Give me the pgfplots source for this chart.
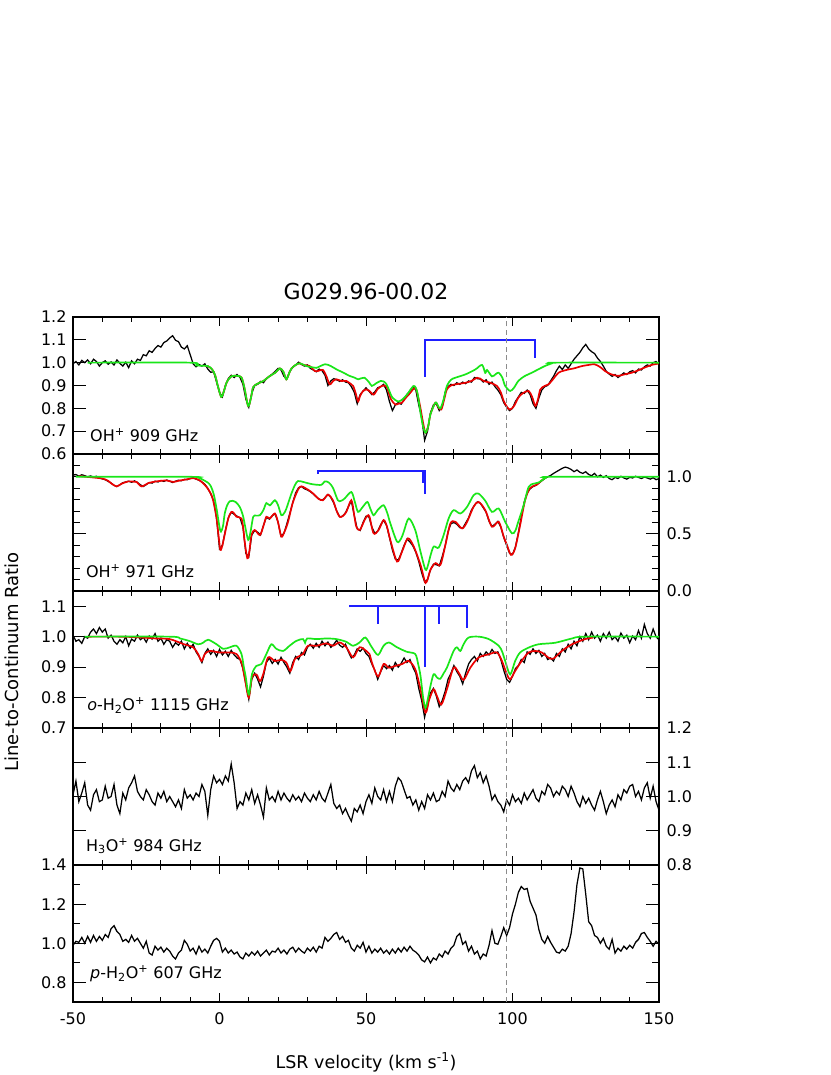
\documentclass[border=0pt]{standalone}
\usepackage{fontspec}
\setmainfont{DejaVu Sans}
\usepackage{pgfplots}
\usepackage{pgfplotstable}
\pgfplotsset{compat=1.18}
\definecolor{mygreen}{RGB}{25,230,25}
\definecolor{myred}{RGB}{235,0,0}
\definecolor{myblue}{RGB}{30,30,255}

\pgfplotstableread{
v b1 b2 b3 b4 b5
-50 0.995 1.015 1.005 1.005 0.990
-49 1.005 1.020 0.985 1.045 1.010
-48 0.990 1.005 0.990 0.985 1.005
-47 1.010 1.018 0.978 1.010 1.030
-46 1.000 1.010 1.000 1.040 1.000
-45 1.012 1.000 0.995 0.975 1.035
-44 0.995 1.008 1.015 0.960 1.005
-43 1.015 0.998 1.025 1.005 1.040
-42 1.005 1.005 1.010 1.020 1.010
-41 0.985 0.990 1.030 0.985 1.035
-40 1.000 0.982 1.015 0.990 1.015
-39 1.008 0.975 1.025 1.030 1.045
-38 0.993 0.960 0.995 0.995 1.030
-37 1.003 0.945 1.005 1.000 1.075
-36 0.990 0.925 0.985 1.035 1.090
-35 1.012 0.915 0.975 0.975 1.060
-34 0.997 0.930 0.990 0.950 1.045
-33 0.985 0.948 0.980 1.010 1.010
-32 1.002 0.955 1.000 0.990 1.020
-31 0.978 0.962 0.970 1.025 1.005
-30 1.008 0.952 0.992 1.040 1.040
-29 0.995 0.965 0.985 1.060 1.010
-28 1.015 0.950 1.005 1.015 1.025
-27 1.010 0.930 0.990 1.000 1.000
-26 1.035 0.915 0.998 0.990 0.975
-25 1.030 0.932 0.982 1.020 1.010
-24 1.052 0.950 1.002 1.005 0.950
-23 1.045 0.945 0.992 0.985 0.940
-22 1.062 0.962 1.010 0.975 0.985
-21 1.075 0.955 0.985 1.010 0.965
-20 1.068 0.968 0.995 0.995 0.980
-19 1.088 0.960 0.975 1.015 0.955
-18 1.095 0.972 0.990 0.985 0.975
-17 1.108 0.962 0.985 1.000 0.960
-16 1.118 0.950 0.965 0.985 0.935
-15 1.098 0.962 0.980 0.970 0.920
-14 1.092 0.970 0.972 0.990 0.950
-13 1.068 0.965 0.985 0.965 0.965
-12 1.060 0.978 0.960 1.020 1.015
-11 1.074 0.975 0.978 0.995 0.995
-10 1.035 0.985 0.962 1.005 0.960
-9 0.995 0.992 0.975 0.990 0.975
-8 0.982 0.980 0.950 1.010 0.945
-7 0.992 0.970 0.935 1.000 0.985
-6 0.985 0.955 0.915 1.035 0.955
-5 0.995 0.935 0.945 1.015 0.970
-4 0.972 0.900 0.960 0.945 0.950
-3 0.958 0.850 0.942 1.020 0.985
-2 0.960 0.790 0.955 1.060 1.015
-1 0.915 0.640 0.935 1.040 1.025
0 0.870 0.370 0.958 1.050 1.010
1 0.850 0.400 0.940 1.035 0.955
2 0.900 0.530 0.952 1.060 0.975
3 0.930 0.640 0.935 1.045 0.950
4 0.945 0.690 0.955 1.095 0.965
5 0.935 0.672 0.940 1.040 0.945
6 0.948 0.655 0.930 0.965 0.955
7 0.935 0.640 0.925 0.985 0.930
8 0.905 0.560 0.895 0.975 0.920
9 0.840 0.330 0.845 1.010 0.950
10 0.805 0.300 0.795 0.990 0.935
11 0.865 0.490 0.860 1.020 0.955
12 0.900 0.530 0.880 0.980 0.940
13 0.905 0.515 0.860 1.005 0.960
14 0.918 0.490 0.835 0.975 0.935
15 0.912 0.575 0.870 0.940 0.950
16 0.930 0.645 0.915 1.025 0.965
17 0.940 0.630 0.930 0.990 0.940
18 0.950 0.660 0.912 1.000 0.960
19 0.962 0.675 0.925 0.985 0.955
20 0.975 0.600 0.910 1.015 0.975
21 0.968 0.480 0.932 0.990 0.950
22 0.940 0.505 0.915 1.010 0.965
23 0.930 0.590 0.900 0.995 0.945
24 0.962 0.680 0.880 0.985 0.970
25 0.980 0.775 0.915 1.005 0.980
26 0.990 0.860 0.935 0.990 0.955
27 1.002 0.905 0.925 1.000 0.975
28 0.992 0.915 0.948 0.985 0.960
29 0.985 0.895 0.940 1.010 0.950
30 0.990 0.885 0.965 0.995 0.975
31 0.975 0.870 0.975 0.985 0.960
32 0.968 0.850 0.962 1.005 0.980
33 0.960 0.825 0.978 0.990 0.955
34 0.972 0.805 0.965 1.015 0.985
35 0.965 0.795 0.985 0.995 0.975
36 0.945 0.815 0.970 0.985 1.030
37 0.900 0.845 0.982 1.010 1.010
38 0.920 0.820 0.965 1.035 1.025
39 0.930 0.770 0.975 0.980 1.045
40 0.925 0.700 0.988 0.965 1.055
41 0.918 0.650 0.972 0.975 1.020
42 0.925 0.655 0.965 0.950 1.035
43 0.915 0.685 0.975 0.965 1.005
44 0.912 0.740 0.950 0.945 1.015
45 0.895 0.790 0.930 0.928 0.975
46 0.870 0.660 0.940 0.965 0.960
47 0.820 0.545 0.960 0.955 0.990
48 0.860 0.530 0.952 0.975 0.975
49 0.875 0.600 0.962 0.950 1.005
50 0.890 0.655 0.945 0.985 0.955
51 0.875 0.650 0.935 1.005 0.985
52 0.860 0.560 0.910 0.980 0.950
53 0.872 0.505 0.890 1.025 0.970
54 0.890 0.525 0.860 1.000 0.955
55 0.895 0.580 0.885 0.990 0.975
56 0.905 0.620 0.905 1.020 0.950
57 0.880 0.575 0.895 0.985 0.965
58 0.830 0.470 0.905 1.015 0.945
59 0.790 0.360 0.890 0.985 0.970
60 0.815 0.280 0.915 1.030 0.950
61 0.825 0.270 0.900 1.055 0.975
62 0.818 0.330 0.912 1.045 0.955
63 0.840 0.400 0.930 1.020 0.980
64 0.862 0.455 0.915 0.995 0.960
65 0.875 0.430 0.925 1.000 0.985
66 0.895 0.395 0.900 0.975 0.965
67 0.880 0.340 0.880 0.990 0.955
68 0.815 0.260 0.830 0.960 0.940
69 0.760 0.160 0.790 0.985 0.915
70 0.660 0.080 0.735 0.965 0.905
71 0.700 0.100 0.780 1.005 0.930
72 0.780 0.185 0.815 0.990 0.900
73 0.815 0.235 0.830 1.010 0.925
74 0.820 0.230 0.805 0.985 0.915
75 0.790 0.220 0.770 0.990 0.945
76 0.805 0.300 0.790 1.015 0.930
77 0.870 0.395 0.820 1.000 0.960
78 0.895 0.520 0.860 1.045 0.945
79 0.905 0.590 0.880 1.025 0.975
80 0.900 0.600 0.905 1.015 0.990
81 0.912 0.585 0.885 1.035 1.035
82 0.905 0.555 0.870 1.020 1.050
83 0.915 0.550 0.845 1.045 0.995
84 0.908 0.595 0.880 1.055 1.010
85 0.920 0.640 0.910 1.040 0.960
86 0.915 0.710 0.925 1.075 0.985
87 0.935 0.750 0.935 1.090 0.945
88 0.930 0.780 0.920 1.055 0.960
89 0.928 0.770 0.945 1.070 0.920
90 0.915 0.730 0.935 1.040 0.945
91 0.925 0.690 0.950 1.060 0.935
92 0.905 0.610 0.940 1.030 0.990
93 0.915 0.565 0.958 0.990 1.065
94 0.895 0.585 0.945 1.005 1.000
95 0.880 0.610 0.950 0.985 0.995
96 0.860 0.560 0.925 0.975 1.035
97 0.825 0.470 0.890 0.955 1.080
98 0.805 0.400 0.860 0.990 1.040
99 0.790 0.330 0.850 0.975 1.080
100 0.800 0.320 0.870 1.005 1.150
101 0.830 0.385 0.895 0.985 1.200
102 0.850 0.510 0.905 0.995 1.260
103 0.870 0.650 0.925 0.980 1.290
104 0.865 0.780 0.915 1.010 1.275
105 0.880 0.860 0.950 0.990 1.280
106 0.860 0.895 0.942 1.005 1.215
107 0.820 0.915 0.960 1.020 1.180
108 0.800 0.925 0.945 0.995 1.145
109 0.845 0.945 0.955 0.985 1.070
110 0.880 0.965 0.935 1.015 1.020
111 0.895 0.985 0.945 1.005 1.000
112 0.900 1.000 0.925 1.035 1.035
113 0.920 1.012 0.930 1.025 1.005
114 0.940 1.030 0.920 1.000 0.980
115 0.965 1.045 0.945 1.015 0.955
116 0.985 1.060 0.935 1.005 0.950
117 0.970 1.075 0.960 1.030 0.970
118 0.990 1.085 0.950 1.020 0.960
119 0.975 1.078 0.975 1.000 0.985
120 0.995 1.065 0.960 1.030 1.050
121 1.015 1.045 0.985 1.010 1.160
122 1.030 1.060 0.970 0.985 1.300
123 1.045 1.040 1.000 0.970 1.385
124 1.065 1.030 0.985 1.000 1.380
125 1.080 1.045 1.010 0.980 1.250
126 1.060 1.020 0.990 0.995 1.110
127 1.048 1.010 1.015 0.975 1.090
128 1.040 1.030 0.995 0.960 1.040
129 1.020 1.000 1.005 0.990 1.030
130 1.005 1.015 0.985 1.015 1.000
131 0.985 0.995 1.010 0.985 1.025
132 0.962 1.010 0.995 0.950 0.985
133 0.950 0.985 1.015 0.975 0.970
134 0.940 0.975 0.990 0.990 1.020
135 0.948 0.995 1.000 0.970 0.950
136 0.935 0.985 0.985 1.005 0.975
137 0.945 1.005 1.012 0.990 0.960
138 0.955 0.990 0.995 1.020 0.985
139 0.948 0.980 1.005 1.010 0.970
140 0.960 0.995 0.980 1.030 0.990
141 0.965 0.990 1.002 1.035 0.975
142 0.955 1.005 0.990 1.000 1.005
143 0.972 0.995 1.020 1.015 1.020
144 0.968 0.985 0.995 0.990 1.050
145 0.982 0.998 1.040 1.025 1.055
146 0.990 0.990 1.010 1.040 1.030
147 0.985 0.980 0.995 0.995 1.010
148 1.000 0.992 1.025 1.030 0.985
149 1.005 0.975 1.000 0.985 1.010
150 0.992 0.985 0.990 0.960 0.995
}\blk

\pgfplotsset{
  panel/.style={
    width=586pt, height=137pt, scale only axis, anchor=south west,
    xmin=-50, xmax=150,
    xtick={-50,0,50,100,150},
    minor xtick={-40,-30,-20,-10,10,20,30,40,60,70,80,90,110,120,130,140},
    xticklabels={},
    tick align=inside, xtick pos=both, ytick pos=both,
    axis line style={line width=1.1pt},
    tick style={black, line width=0.9pt},
    xtick style={/pgfplots/major tick length=9pt, /pgfplots/minor tick length=5pt},
    ytick style={/pgfplots/major tick length=13pt, /pgfplots/minor tick length=7pt},
    tick label style={font=\fontsize{16}{18}\selectfont},
    clip=true,
  },
  obs/.style={black, line width=1.25pt},
  mred/.style={myred, line width=1.7pt, smooth, tension=0.5},
  mgreen/.style={mygreen, line width=1.7pt, smooth, tension=0.5},
  hfs/.style={myblue, line width=1.8pt},
  vdash/.style={color=black!45, line width=1pt, dash pattern=on 5pt off 3.5pt},
}
\tikzset{plab/.style={anchor=base west, inner sep=0pt, font=\fontsize{16}{18}\selectfont}}

\begin{document}
\begin{tikzpicture}
\path[use as bounding box] (-73pt,-73pt) rectangle (757pt,1002pt);

% ---------------- Panel 1: OH+ 909 GHz
\begin{axis}[panel, at={(0pt,548pt)},
  ymin=0.6, ymax=1.2,
  ytick={0.6,0.7,0.8,0.9,1.0,1.1,1.2},
  yticklabels={0.6,0.7,0.8,0.9,1.0,1.1,1.2},
  yticklabel style={xshift=-3pt},
  title={G029.96-00.02},
  title style={font=\fontsize{22}{26}\selectfont, at={(0.5,1)}, anchor=base, yshift=11pt},
]
\addplot[obs] table[x=v,y=b1]{\blk};
\addplot[mred] coordinates {(-5,0.985) (-4,0.985) (-2.5,0.97) (-1.5,0.945) (-0.5,0.895) (0.6,0.85) (1.5,0.875) (2.5,0.915) (4,0.94) (6,0.942) (7.5,0.935) (8.5,0.89) (9.8,0.81) (10.8,0.85) (11.5,0.893) (13,0.908) (15,0.92) (17,0.94) (19,0.956) (20.6,0.975) (21.8,0.96) (22.8,0.927) (23.8,0.955) (24.6,0.975) (26,0.99) (27.4,0.997) (28.6,0.99) (30.8,0.985) (32.6,0.963) (34,0.965) (35.3,0.968) (36.5,0.94) (37.6,0.905) (38.8,0.92) (40,0.927) (41.5,0.92) (43.3,0.92) (44.5,0.91) (45.6,0.898) (46.5,0.865) (47.3,0.83) (48,0.855) (49,0.876) (50,0.883) (51,0.878) (52.6,0.86) (54,0.885) (55.5,0.898) (57,0.895) (58.5,0.84) (60,0.817) (61,0.82) (62.3,0.825) (63.5,0.845) (64.6,0.86) (66.8,0.89) (67.8,0.85) (68.6,0.80) (69.5,0.735) (70.3,0.693) (71.2,0.72) (72,0.774) (73.7,0.825) (74.7,0.805) (75.7,0.795) (76.7,0.84) (77.6,0.883) (79,0.9) (80.5,0.905) (84,0.912) (86,0.92) (87.9,0.934) (89,0.93) (90.1,0.92) (92.4,0.912) (94.7,0.898) (96,0.87) (97,0.832) (98.2,0.805) (99.2,0.795) (100.5,0.81) (102,0.847) (103.5,0.866) (105.5,0.876) (106.7,0.85) (107.8,0.81) (108.7,0.84) (109.5,0.883) (111,0.898) (112.3,0.905) (114,0.93) (115.7,0.956) (117.5,0.965) (119,0.97) (121,0.975) (123.7,0.985) (126,0.99) (128,0.993) (130,0.98) (131.6,0.963) (133.5,0.95) (136,0.942) (138,0.948) (140.7,0.956) (143,0.967) (145,0.978) (147.5,0.99) (149.8,0.996)};
\addplot[mgreen] coordinates {(-45,1.0) (-10,1.0) (-8,0.988) (-4,0.985) (-2.5,0.97) (-1.5,0.945) (-0.5,0.895) (0.6,0.85) (1.5,0.875) (2.5,0.915) (4,0.94) (6,0.942) (7.5,0.935) (8.5,0.89) (9.8,0.81) (10.8,0.85) (11.5,0.893) (13,0.908) (15,0.92) (17,0.94) (19,0.956) (20.6,0.975) (21.8,0.96) (22.8,0.927) (23.8,0.955) (24.6,0.975) (26,0.99) (27.4,0.997) (29.7,0.985) (31.5,0.98) (33,0.977) (36,0.993) (38,0.985) (40,0.97) (42,0.958) (44.4,0.942) (46,0.935) (47.3,0.927) (48.5,0.932) (49.5,0.934) (51,0.915) (52,0.898) (53.5,0.91) (55,0.92) (56,0.918) (57,0.905) (58,0.875) (59,0.847) (61,0.83) (62.5,0.84) (64,0.86) (66.3,0.898) (67.5,0.87) (68.6,0.78) (69.5,0.72) (70.3,0.693) (71.2,0.72) (72,0.774) (73.7,0.825) (74.6,0.81) (75.4,0.80) (76.5,0.84) (77.6,0.898) (79,0.925) (80.5,0.934) (84,0.949) (87.3,0.97) (89.6,0.99) (90.7,0.955) (91.3,0.968) (93,0.94) (94.3,0.95) (95.3,0.956) (96.5,0.935) (97.5,0.898) (99.2,0.876) (100.5,0.89) (102,0.92) (104,0.94) (106.6,0.956) (109,0.972) (111,0.985) (113,0.995) (114.6,1.0) (150,1.0)};
\addplot[hfs] coordinates {(70,0.938) (70,1.098) (107.7,1.098) (107.7,1.019)};
\addplot[vdash] coordinates {(98,0.6) (98,1.2)};
\node[plab] at (rel axis cs:0.029,0.09) {OH\textsuperscript{+} 909 GHz};
\end{axis}

% ---------------- Panel 2: OH+ 971 GHz
\begin{axis}[panel, at={(0pt,411pt)},
  ymin=0, ymax=1.2,
  ytick={0,0.5,1.0},
  yticklabels={0.0,0.5,1.0},
  minor ytick={0.1,0.2,0.3,0.4,0.6,0.7,0.8,0.9,1.1},
  yticklabel pos=right,
  yticklabel style={xshift=4pt},
]
\addplot[obs] table[x=v,y=b2]{\blk};
\addplot[mred] coordinates {(-48,1.006) (-44.2,0.997) (-40,0.985) (-38,0.965) (-36.8,0.94) (-35.1,0.916) (-33.4,0.94) (-31.1,0.96) (-29.5,0.958) (-28.3,0.955) (-26.6,0.916) (-24.3,0.945) (-21.5,0.96) (-18.1,0.968) (-15.8,0.955) (-13.5,0.968) (-11.3,0.977) (-9,0.989) (-6.7,0.968) (-4.4,0.91) (-2.7,0.838) (-1.8,0.75) (-1,0.635) (-0.3,0.48) (0.3,0.36) (1,0.40) (1.5,0.461) (3,0.635) (4.1,0.693) (5,0.68) (5.8,0.65) (7.5,0.635) (8.2,0.53) (8.6,0.432) (9.5,0.287) (10.2,0.35) (10.9,0.49) (12,0.534) (13.8,0.49) (15,0.57) (16,0.65) (17.2,0.635) (18.9,0.679) (20,0.6) (21.1,0.476) (22.2,0.52) (23.4,0.606) (25.1,0.78) (27.4,0.911) (29.7,0.895) (32,0.853) (33.7,0.809) (35.3,0.795) (37,0.844) (38.7,0.795) (40,0.7) (41,0.65) (42,0.655) (43.3,0.693) (45,0.795) (46,0.66) (46.7,0.563) (47.9,0.534) (49.5,0.621) (50.5,0.66) (51.2,0.65) (52.6,0.505) (54.3,0.534) (56,0.621) (57.2,0.56) (58.3,0.447) (60.6,0.258) (62.3,0.345) (64.3,0.461) (66.3,0.389) (68.6,0.229) (69.6,0.13) (70.3,0.07) (71,0.10) (72,0.186) (73.7,0.244) (75.4,0.229) (77.1,0.403) (78.8,0.592) (80.5,0.606) (82.8,0.548) (84.5,0.606) (86.7,0.737) (88.4,0.78) (90.7,0.708) (93,0.563) (95.3,0.606) (97,0.476) (98.1,0.403) (99.5,0.316) (100.9,0.374) (102.6,0.577) (104.3,0.795) (106,0.902) (108.3,0.931) (110,0.969) (111.7,1.0)};
\addplot[mgreen] coordinates {(-49,1.0) (-10,1.0) (-7,0.99) (-5,0.965) (-4,0.95) (-3,0.92) (-2,0.85) (-1,0.72) (0,0.56) (0.5,0.52) (1.2,0.57) (1.8,0.68) (2.6,0.75) (3.5,0.786) (4.5,0.79) (5.5,0.78) (6.9,0.737) (8,0.66) (8.8,0.56) (9.8,0.447) (10.6,0.52) (11.5,0.65) (12.5,0.66) (13.8,0.664) (15,0.71) (16,0.77) (17.2,0.75) (18.9,0.795) (20,0.75) (21.1,0.664) (22,0.68) (22.8,0.72) (24.5,0.85) (25.8,0.93) (26.8,0.963) (28.6,0.955) (30,0.945) (32,0.934) (34.8,0.93) (35.9,0.96) (37.3,0.95) (38.7,0.905) (40.4,0.795) (41.5,0.79) (42.7,0.81) (45,0.867) (46.2,0.78) (47.3,0.693) (49,0.74) (50.5,0.78) (51.5,0.72) (52.6,0.664) (54,0.71) (56,0.751) (57.3,0.68) (58.3,0.592) (60.6,0.432) (62,0.46) (62.9,0.52) (64.6,0.635) (66.8,0.534) (68.6,0.345) (70.3,0.186) (71.2,0.23) (72,0.31) (73.1,0.389) (74.8,0.38) (76.5,0.49) (78.2,0.635) (79.9,0.708) (82.2,0.679) (84.5,0.737) (86.7,0.838) (88.4,0.853) (90.7,0.79) (93,0.693) (95.3,0.722) (97.5,0.606) (99.8,0.505) (101,0.53) (102,0.61) (103.8,0.751) (105.5,0.911) (107.2,0.94) (108.9,0.95) (111.2,0.989) (112.9,1.0) (150,1.0)};
\addplot[hfs] coordinates {(33.5,1.025) (33.5,1.048) (70,1.048) (70,0.852)};
\addplot[hfs] coordinates {(69.4,1.048) (69.4,0.942)};
\addplot[vdash] coordinates {(98,0) (98,1.2)};
\node[plab] at (rel axis cs:0.022,0.097) {OH\textsuperscript{+} 971 GHz};
\end{axis}

% ---------------- Panel 3: o-H2O+ 1115 GHz
\begin{axis}[panel, at={(0pt,274pt)},
  ymin=0.7, ymax=1.15,
  ytick={0.7,0.8,0.9,1.0,1.1},
  yticklabels={0.7,0.8,0.9,1.0,1.1},
  yticklabel style={xshift=-3pt},
]
\addplot[obs] table[x=v,y=b3]{\blk};
\addplot[mred] coordinates {(-45,1.0) (-34,1.0) (-28.3,0.998) (-21.5,0.994) (-17,0.992) (-12.4,0.976) (-9,0.965) (-7.3,0.943) (-6.1,0.92) (-5,0.943) (-3.3,0.953) (0.1,0.948) (3.5,0.948) (5.8,0.943) (7.5,0.915) (8.3,0.88) (8.9,0.849) (10,0.8) (11.1,0.866) (12.6,0.876) (13.8,0.854) (14.9,0.876) (16.6,0.932) (18.9,0.92) (21.1,0.924) (22.8,0.915) (24.2,0.887) (25.7,0.926) (27.4,0.937) (28.5,0.943) (30.2,0.97) (33.1,0.97) (36.5,0.978) (38.7,0.97) (41,0.981) (43.3,0.965) (45.6,0.932) (47.8,0.965) (50.1,0.953) (51.2,0.943) (52,0.915) (54.1,0.869) (56,0.91) (57.8,0.898) (60,0.904) (62.3,0.91) (64.6,0.92) (66.8,0.893) (68.6,0.827) (70.3,0.75) (71.6,0.794) (73.1,0.827) (74.2,0.805) (75.7,0.777) (77.6,0.827) (79.9,0.898) (81.6,0.882) (83.3,0.858) (85.6,0.898) (88.4,0.931) (91.9,0.942) (94.7,0.948) (96.4,0.92) (98.1,0.876) (99.2,0.86) (100.9,0.887) (103.1,0.92) (105.5,0.948) (107.8,0.953) (110,0.948) (112.3,0.931) (114,0.928) (116.8,0.953) (120.3,0.975) (124.8,0.992) (127.6,0.997)};
\addplot[mgreen] coordinates {(-46,1.0) (-17,1.0) (-13.5,0.994) (-10,0.985) (-7.3,0.975) (-5.6,0.98) (-3.9,0.99) (-1,0.975) (1.3,0.96) (3.5,0.965) (5.8,0.97) (7.5,0.943) (8.3,0.90) (8.9,0.871) (10,0.81) (11.1,0.877) (12.6,0.904) (14.3,0.91) (16,0.943) (17.7,0.975) (19.4,0.96) (21.7,0.953) (23.9,0.97) (26.2,0.986) (28.5,0.992) (29.2,0.98) (29.9,0.994) (33.1,0.992) (36.5,0.994) (39.9,0.992) (43.3,0.983) (45.6,0.97) (47.8,0.981) (49.8,0.997) (52,0.965) (54.1,0.94) (56,0.97) (57.8,0.981) (60.6,0.965) (64,0.95) (66.8,0.943) (67.8,0.91) (68.6,0.871) (69.5,0.80) (70.3,0.766) (71.2,0.8) (72,0.838) (73.1,0.877) (74.3,0.865) (75.4,0.862) (76.5,0.88) (77.6,0.898) (79.9,0.953) (81,0.965) (82.2,0.953) (83.3,0.975) (85,0.997) (88.4,1.0) (91.9,0.992) (95.3,0.97) (96.5,0.95) (97.5,0.92) (99.2,0.876) (100.9,0.92) (102.6,0.948) (105.5,0.964) (108.9,0.975) (114.6,0.98) (120.3,0.994) (124.8,1.0) (150,1.0)};
\addplot[hfs] coordinates {(44.5,1.096) (44.5,1.1) (84.4,1.1) (84.4,1.027)};
\addplot[hfs] coordinates {(54,1.1) (54,1.043)};
\addplot[hfs] coordinates {(70.1,1.1) (70.1,0.9)};
\addplot[hfs] coordinates {(74.9,1.1) (74.9,1.042)};
\addplot[vdash] coordinates {(98,0.7) (98,1.15)};
\node[plab] at (rel axis cs:0.024,0.127) {\textit{o}-H\textsubscript{2}O\textsuperscript{+} 1115 GHz};
\end{axis}

% ---------------- Panel 4: H3O+ 984 GHz
\begin{axis}[panel, at={(0pt,137pt)},
  ymin=0.8, ymax=1.2,
  ytick={0.8,0.9,1.0,1.1,1.2},
  yticklabels={0.8,0.9,1.0,1.1,1.2},
  yticklabel pos=right,
  yticklabel style={xshift=4pt},
]
\addplot[obs] table[x=v,y=b4]{\blk};
\addplot[vdash] coordinates {(98,0.8) (98,1.2)};
\node[plab] at (rel axis cs:0.022,0.10) {H\textsubscript{3}O\textsuperscript{+} 984 GHz};
\end{axis}

% ---------------- Panel 5: p-H2O+ 607 GHz
\begin{axis}[panel, at={(0pt,0pt)},
  ymin=0.7, ymax=1.4,
  ytick={0.8,1.0,1.2,1.4},
  yticklabels={0.8,1.0,1.2,1.4},
  minor ytick={0.9,1.1,1.3},
  yticklabel style={xshift=-3pt},
  xticklabels={-50,0,50,100,150},
  xticklabel style={yshift=-7pt},
  xlabel={LSR velocity (km s\textsuperscript{-1})},
  xlabel style={font=\fontsize{17.5}{20}\selectfont, at={(0.5,0)}, anchor=base, yshift=-66pt},
]
\addplot[obs] table[x=v,y=b5]{\blk};
\addplot[vdash] coordinates {(98,0.7) (98,1.4)};
\node[plab] at (rel axis cs:0.029,0.17) {\textit{p}-H\textsubscript{2}O\textsuperscript{+} 607 GHz};
\end{axis}

\node[rotate=90, anchor=base, inner sep=0pt, font=\fontsize{18}{20}\selectfont] at (-55pt,340pt) {Line-to-Continuum Ratio};
\end{tikzpicture}
\end{document}
